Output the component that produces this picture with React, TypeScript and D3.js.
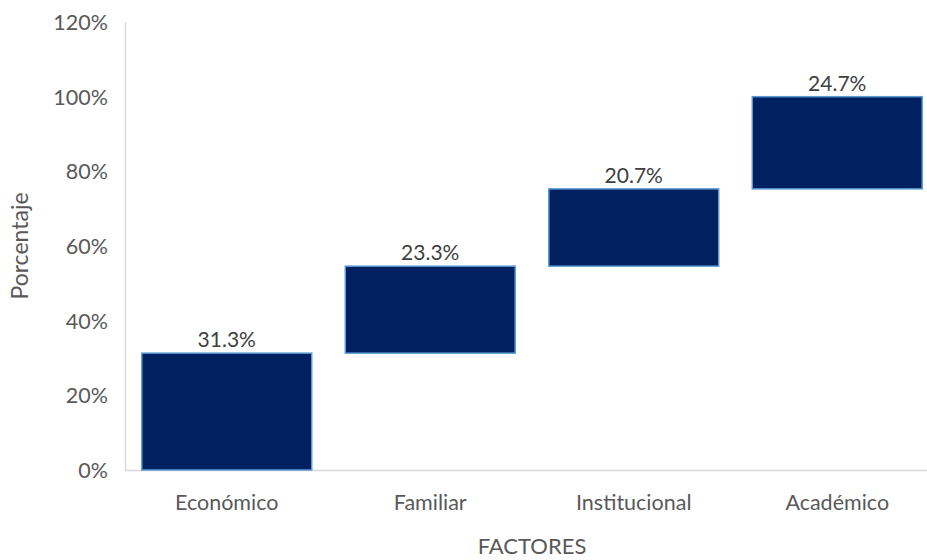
import React from 'react';
import * as d3 from 'd3';

// factores y porcentaje que aporta cada uno (cascada)
const categories = ['Económico', 'Familiar', 'Institucional', 'Académico'];
const values = [31.3, 23.3, 20.7, 24.7];
const yTicks = [0, 20, 40, 60, 80, 100, 120];

const W = 927;
const H = 560;
const FONT = 'Lato, "Open Sans", sans-serif';

export default function App() {
  const x = d3.scaleBand<string>()
    .domain(categories)
    .range([125, 939])
    .paddingInner(0.165)
    .paddingOuter(0.0825);
  const y = d3.scaleLinear().domain([0, 120]).range([470, 22]);

  // inicio acumulado de cada barra
  const starts = values.map((_, i) => d3.sum(values.slice(0, i)));

  return (
    <div style={{ position: 'fixed', left: 0, top: 0 }}>
      <svg width={W} height={H} style={{ display: 'block', background: '#fff' }} fontFamily={FONT}>
        {/* eje y */}
        <line x1={125.5} x2={125.5} y1={y(120)} y2={y(0)} stroke="#d9d9d9" strokeWidth={1.5} />
        {yTicks.map(t => (
          <text key={t} x={108} y={y(t) + 8} textAnchor="end" fontSize={21.5} fill="#595959">
            {t}%
          </text>
        ))}
        {/* eje x */}
        <line x1={125} x2={W} y1={470.5} y2={470.5} stroke="#d9d9d9" strokeWidth={1.5} />

        {categories.map((c, i) => {
          const x0 = x(c)!;
          const top = y(starts[i] + values[i]);
          const bottom = y(starts[i]);
          return (
            <g key={c}>
              <rect
                x={x0}
                y={top}
                width={x.bandwidth()}
                height={bottom - top}
                fill="#002060"
                stroke="#5b9bd5"
                strokeWidth={1.5}
              />
              <text x={x0 + x.bandwidth() / 2} y={top - 6} textAnchor="middle" fontSize={21} fill="#404040">
                {values[i].toFixed(1)}%
              </text>
              <text x={x0 + x.bandwidth() / 2} y={510} textAnchor="middle" fontSize={21.5} fill="#595959">
                {c}
              </text>
            </g>
          );
        })}

        <text x={532} y={554} textAnchor="middle" fontSize={22} fill="#595959">
          FACTORES
        </text>
        <text
          transform={`translate(28,246) rotate(-90)`}
          textAnchor="middle"
          fontSize={23}
          fill="#595959"
        >
          Porcentaje
        </text>
      </svg>
    </div>
  );
}
